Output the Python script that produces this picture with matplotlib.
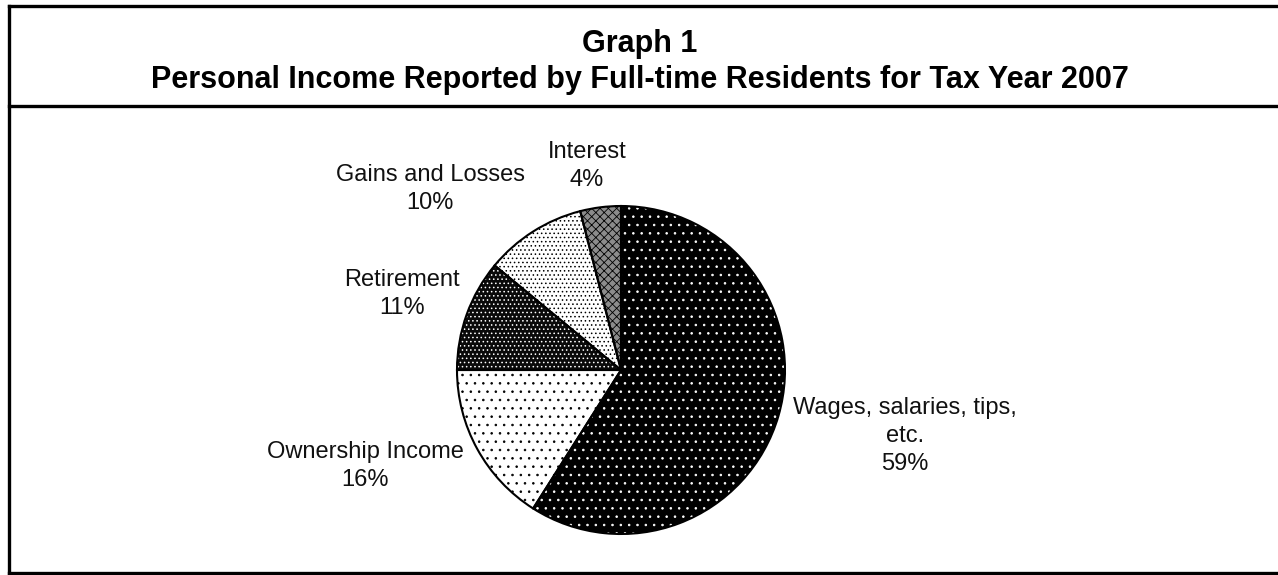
import matplotlib
matplotlib.use("Agg")
import matplotlib.pyplot as plt
from matplotlib.lines import Line2D

# Income sources, percent of total personal income (clockwise from 12 o'clock)
categories = ["Wages, salaries, tips,\netc.", "Ownership Income", "Retirement",
              "Gains and Losses", "Interest"]
shares = [59, 16, 11, 10, 4]

title_lines = ["Graph 1",
               "Personal Income Reported by Full-time Residents for Tax Year 2007"]

W, H = 1278, 575
plt.rcParams["font.family"] = ["Liberation Sans", "DejaVu Sans"]
plt.rcParams["hatch.linewidth"] = 0.6

fig = plt.figure(figsize=(W / 100, H / 100), dpi=100)
fig.patch.set_facecolor("white")


def fx(px):
    return px / W


def fy(py):
    return 1 - py / H


# Frame around the chart and the title band
frame_kw = dict(color="black", linewidth=2.4, solid_capstyle="projecting")
fig.add_artist(Line2D([fx(9), fx(9)], [fy(6), fy(573)], transform=fig.transFigure, **frame_kw))
fig.add_artist(Line2D([fx(9), 1.0], [fy(6), fy(6)], transform=fig.transFigure, **frame_kw))
fig.add_artist(Line2D([fx(9), 1.0], [fy(106), fy(106)], transform=fig.transFigure, **frame_kw))
fig.add_artist(Line2D([fx(9), 1.0], [fy(573), fy(573)], transform=fig.transFigure, **frame_kw))

# Title
fig.text(fx(640), fy(44), title_lines[0], ha="center", va="center",
         fontsize=22, fontweight="bold")
fig.text(fx(640), fy(80), title_lines[1], ha="center", va="center",
         fontsize=22, fontweight="bold")

# Pie axes: centre (621, 370) px, radius 164 px
cx, cy, r = 621, 370, 164
ax = fig.add_axes([fx(cx - r), fy(cy + r), 2 * r / W, 2 * r / H])

faces = ["black", "white", "#0a0a0a", "white", "#8c8c8c"]
dots = ["white", "black", "white", "black", "black"]
hatches = ["..", "..", "....", "....", "xxxx"]

wedges, _ = ax.pie(shares, startangle=90, counterclock=False, radius=1,
                   colors=faces, wedgeprops=dict(linewidth=0))
for w, hc, h in zip(wedges, dots, hatches):
    w.set_edgecolor(hc)
    w.set_hatch(h)
    w.set_linewidth(0)

# Outlines on top of the textured slices
ax.pie(shares, startangle=90, counterclock=False, radius=1,
       wedgeprops=dict(fill=False, edgecolor="black", linewidth=1.5))

ax.set_xlim(-1, 1)
ax.set_ylim(-1, 1)
ax.set_aspect("equal")
ax.axis("off")

# Slice labels: name and percentage
label_pos = [(905, 436), (365, 466), (402, 294), (430, 189), (587, 166)]
for name, val, (px, py) in zip(categories, shares, label_pos):
    fig.text(fx(px), fy(py), f"{name}\n{val}%", ha="center", va="center",
             fontsize=17, linespacing=1.33, color="#111111")

fig.savefig("out.png", dpi=100, facecolor="white")
